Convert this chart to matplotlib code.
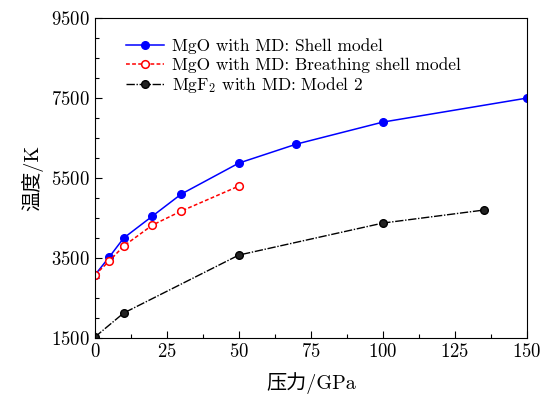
import numpy as np
import matplotlib.pyplot as plt

plt.rcParams['font.family'] = ['cmr10', 'Noto Sans CJK SC']
plt.rcParams['mathtext.fontset'] = 'cm'
plt.rcParams['axes.formatter.use_mathtext'] = True

# 压力 (GPa) vs 温度 (K)
p_shell = [0, 5, 10, 20, 30, 50, 70, 100, 150]
t_shell = [3075, 3525, 4000, 4550, 5100, 5875, 6350, 6900, 7500]

p_breath = [0, 5, 10, 20, 30, 50]
t_breath = [3075, 3425, 3800, 4325, 4675, 5300]

p_mgf2 = [0, 10, 50, 100, 135]
t_mgf2 = [1525, 2125, 3575, 4375, 4700]

fig = plt.figure(figsize=(5.42, 3.94), dpi=100)
ax = fig.add_axes([0.175, 0.142, 0.797, 0.812])

ax.plot(p_shell, t_shell, '-', color='blue', marker='o', ms=5.5, lw=1.1,
        label='MgO with MD: Shell model')
ax.plot(p_breath, t_breath, color='red', ls=(0, (2.5, 1.5)), marker='o', ms=5.5, lw=1.1,
        mfc='white', mec='red', mew=1.1, label='MgO with MD: Breathing shell model')
ax.plot(p_mgf2, t_mgf2, color='black', ls=(0, (6, 1.2, 1, 1.2)), marker='o', ms=5.5, lw=1.0,
        mfc='#222222', mec='black', label='MgF$_2$ with MD: Model 2')

ax.set_xlim(0, 150)
ax.set_ylim(1500, 9500)
ax.set_xticks(np.arange(0, 151, 25))
ax.set_xticks(np.arange(0, 151, 12.5), minor=True)
ax.set_yticks([1500, 3500, 5500, 7500, 9500])
ax.set_yticks(np.arange(1500, 9501, 500), minor=True)
ax.tick_params(direction='in', labelsize=13.5, length=5, width=0.8)
ax.tick_params(which='minor', direction='in', length=3, width=0.8)

ax.set_xlabel('压力/GPa', fontsize=14.5, labelpad=8)
ax.set_ylabel('温度/K', fontsize=14.5, labelpad=6)

ax.legend(loc='upper left', bbox_to_anchor=(0.035, 0.985), frameon=False,
          fontsize=12.5, handlelength=2.2, labelspacing=0.15, handletextpad=0.5)

fig.savefig('out.png', dpi=100)
